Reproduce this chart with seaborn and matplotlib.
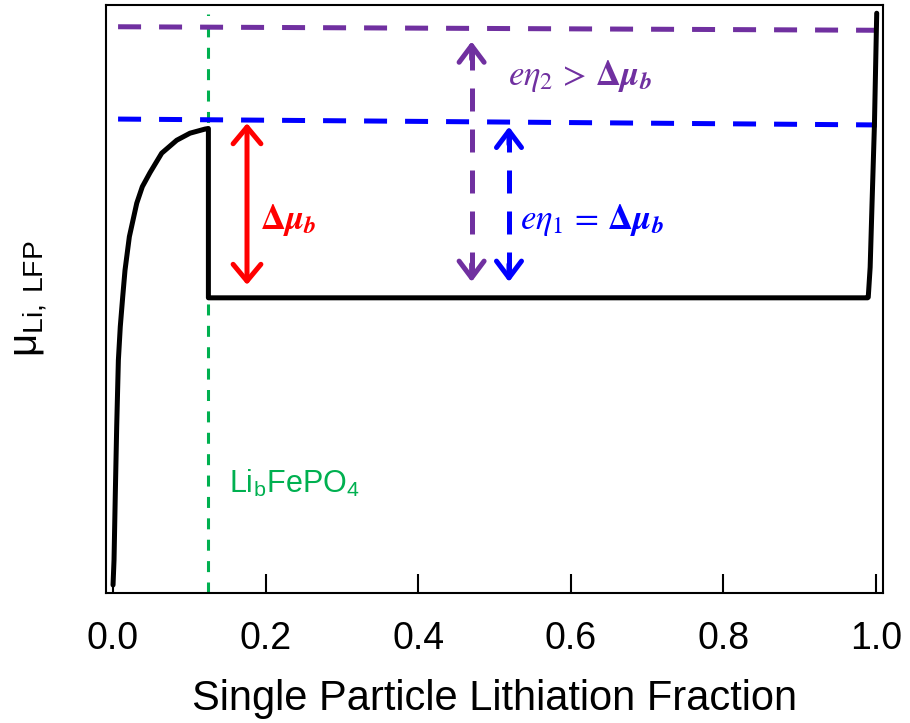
import matplotlib
matplotlib.use("Agg")
import matplotlib.pyplot as plt
import seaborn as sns
import pandas as pd

# ---- data ----
curve_x = [0.000, 0.0013, 0.0030, 0.0048, 0.0070, 0.0095, 0.0127, 0.0157, 0.0214, 0.0311,
           0.0384, 0.0485, 0.0638, 0.0835, 0.1009, 0.1206, 0.125, 0.125, 0.989, 0.9899,
           0.9924, 0.9950, 0.9980, 1.001]
curve_y = [0.0136, 0.056, 0.170, 0.283, 0.396, 0.453, 0.504, 0.549, 0.606, 0.663,
           0.691, 0.715, 0.748, 0.770, 0.782, 0.789, 0.790, 0.502, 0.502, 0.503,
           0.554, 0.668, 0.796, 0.986]

blue_level_x = [0.0066, 1.001]
blue_level_y = [0.806, 0.796]
purple_level_x = [0.0066, 1.001]
purple_level_y = [0.963, 0.957]

lib_x = [0.125, 0.125]
lib_y = [0.0, 0.985]

red_arrow_x = 0.1756
red_arrow_y = [0.524, 0.799]
purple_arrow_x = 0.470
purple_arrow_y = [0.529, 0.938]
blue_arrow_x = 0.519
blue_arrow_y = [0.529, 0.793]

xticks = [0.0, 0.2, 0.4, 0.6, 0.8, 1.0]
xtick_labels = ["0.0", "0.2", "0.4", "0.6", "0.8", "1.0"]

RED = "#ff0000"
BLUE = "#0000ff"
PURPLE = "#7030a0"
GREEN = "#00b050"

sns.set_theme(style="white")
plt.rcParams["font.family"] = ["Liberation Sans", "DejaVu Sans"]
plt.rcParams["mathtext.fontset"] = "stix"

fig = plt.figure(figsize=(9.1, 7.23), dpi=100)
ax = fig.add_axes([0.1165, 0.1798, 0.9703 - 0.1165, 0.9931 - 0.1798])

df = pd.DataFrame({"x": curve_x, "y": curve_y})
sns.lineplot(data=df, x="x", y="y", ax=ax, color="black", lw=3.6,
             estimator=None, sort=False, zorder=5)

# dashed reference levels
ax.plot(blue_level_x, blue_level_y, color=BLUE, lw=3.6, dashes=(4.6, 3.6), zorder=3)
ax.plot(purple_level_x, purple_level_y, color=PURPLE, lw=3.6, dashes=(4.6, 3.6), zorder=3)
ax.plot(lib_x, lib_y, color=GREEN, lw=2.2, dashes=(3.6, 3.4), zorder=2)

# red double arrow
ax.annotate("", xy=(red_arrow_x, red_arrow_y[1]), xytext=(red_arrow_x, red_arrow_y[0]),
            arrowprops=dict(arrowstyle="<->,head_length=0.6,head_width=0.5",
                            lw=3.6, color=RED, shrinkA=0, shrinkB=0, mutation_scale=20))

def dashed_double_arrow(xa, ys, color):
    ax.plot([xa, xa], [ys[0] + 0.012, ys[1] - 0.012], color=color, lw=3.6,
            dashes=(4.6, 3.6))
    for tip, sgn in ((ys[1], -1), (ys[0], 1)):
        ax.annotate("", xy=(xa, tip), xytext=(xa, tip + sgn * 0.03),
                    arrowprops=dict(arrowstyle="->,head_length=0.6,head_width=0.45",
                                    lw=3.6, color=color, shrinkA=0, shrinkB=0,
                                    mutation_scale=20))

dashed_double_arrow(purple_arrow_x, purple_arrow_y, PURPLE)
dashed_double_arrow(blue_arrow_x, blue_arrow_y, BLUE)

# annotations
dmu = r"\mathbf{\Delta}\mathbfit{\mu}_{\mathbfit{b}}"
ax.text(0.193, 0.634, "$" + dmu + "$", color=RED, fontsize=25, va="center", ha="left")
ax.text(0.518, 0.879, r"$e\eta_{2}\,>\,$" + "$" + dmu + "$", color=PURPLE, fontsize=25,
        va="center", ha="left")
ax.text(0.533, 0.634, r"$e\eta_{1}\,=\,$" + "$" + dmu + "$", color=BLUE, fontsize=25,
        va="center", ha="left")
ax.text(0.152, 0.170, r"Li$_\mathregular{b}$FePO$_\mathregular{4}$", color=GREEN,
        fontsize=22, va="baseline", ha="left")

ax.set_xlim(-0.0092, 1.0092)
ax.set_ylim(0, 1)
ax.set_xticks(xticks)
ax.set_xticklabels(xtick_labels)
ax.set_yticks([])
ax.tick_params(axis="x", direction="in", length=14, width=1.5, labelsize=27, pad=20,
               colors="black", bottom=True)
for s in ax.spines.values():
    s.set_color("black")
    s.set_linewidth(1.5)
    s.set_visible(True)
ax.set_xlabel("Single Particle Lithiation Fraction", fontsize=30, labelpad=16, color="black")
ax.set_ylabel(r"$\mathregular{\mu_{Li,\ LFP}}$", fontsize=29, labelpad=40, color="black")

fig.savefig("out.png", dpi=100)
